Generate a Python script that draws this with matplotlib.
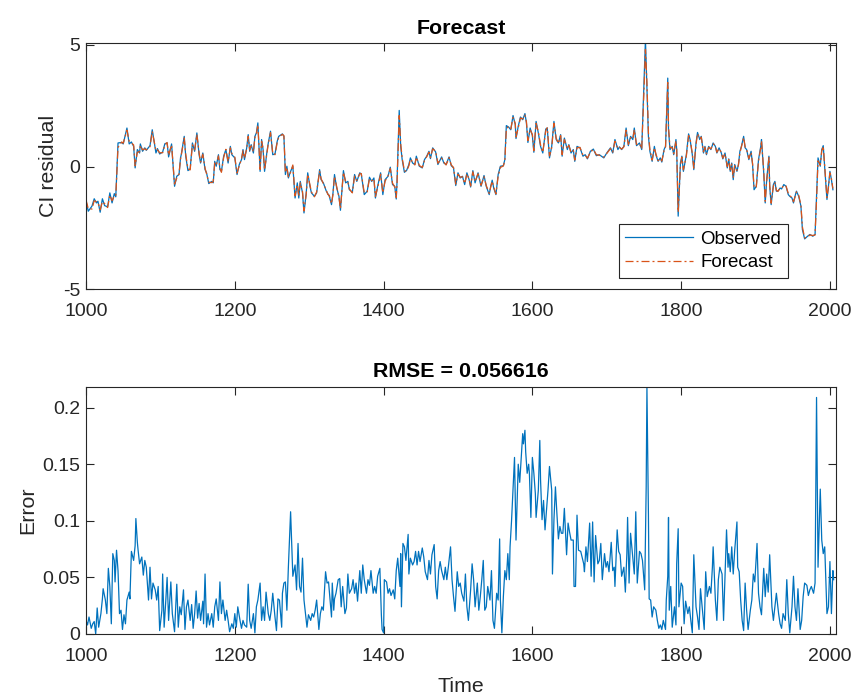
import matplotlib
matplotlib.use('Agg')
import matplotlib.pyplot as plt
from matplotlib.ticker import FixedLocator, FixedFormatter

plt.rcParams['font.family'] = ['Liberation Sans', 'DejaVu Sans']

# colours used by MATLAB defaults
blue = '#0072BD'
orange = '#D95319'
axcol = '#262626'

# ---- upper panel: observed / forecast CI residual ----
t_obs = [1000, 1003, 1008, 1011, 1014, 1016, 1019, 1022, 1025, 1029, 1032, 1035, 1038, 1040,
         1043, 1048, 1050, 1055, 1058, 1061, 1064, 1066, 1069, 1072, 1073, 1076, 1079, 1081,
         1086, 1089, 1094, 1096, 1099, 1103, 1106, 1109, 1111, 1115, 1119, 1122, 1125, 1127,
         1128, 1132, 1134, 1137, 1140, 1143, 1146, 1149, 1152, 1154, 1157, 1160, 1162, 1165,
         1169, 1171, 1173, 1175, 1178, 1180, 1182, 1185, 1188, 1191, 1194, 1196, 1200, 1203,
         1206, 1209, 1211, 1213, 1216, 1218, 1220, 1222, 1225, 1227, 1229, 1231, 1234, 1236,
         1238, 1240, 1243, 1245, 1248, 1251, 1254, 1257, 1259, 1264, 1266, 1268, 1270, 1272,
         1275, 1278, 1281, 1284, 1286, 1288, 1291, 1293, 1296, 1298, 1301, 1303, 1307, 1310,
         1314, 1316, 1319, 1323, 1325,
         1327, 1330, 1332, 1334, 1337, 1340, 1342, 1346, 1349, 1352, 1354, 1358, 1361, 1364,
         1368, 1370, 1374, 1378, 1381, 1384, 1387, 1389, 1392, 1396, 1399, 1402, 1406, 1409,
         1412, 1415, 1417, 1418, 1421, 1423, 1425, 1428, 1431, 1434, 1436, 1439, 1442, 1444,
         1448, 1452, 1455, 1458, 1461, 1463, 1466, 1470, 1473, 1478, 1481, 1484, 1488, 1491,
         1494, 1497, 1500, 1503, 1506, 1509, 1512, 1515, 1517, 1520, 1523, 1527, 1529, 1531,
         1535, 1538, 1542, 1544, 1546, 1548, 1551, 1554, 1557, 1561, 1563, 1565, 1568, 1571,
         1574, 1577, 1578, 1581, 1584, 1587, 1590, 1592, 1594, 1597, 1600, 1602, 1605, 1608,
         1611, 1614, 1618, 1620, 1623, 1626, 1629, 1632, 1635, 1638, 1640, 1643, 1647, 1649,
         1652, 1655, 1657, 1660,
         1664, 1668, 1671, 1674, 1678, 1682, 1686, 1690, 1696, 1700, 1705, 1708, 1711, 1715,
         1717, 1720, 1723, 1726, 1729, 1732, 1735, 1737, 1740, 1744, 1747, 1750, 1752, 1754,
         1756, 1758, 1761, 1764, 1766, 1769, 1772, 1774, 1777, 1779, 1782, 1783, 1785, 1788,
         1790, 1793, 1794, 1796, 1799, 1801, 1803, 1807, 1810, 1812, 1815, 1817, 1820, 1822,
         1825, 1827, 1830, 1832, 1834, 1837, 1840, 1843, 1846, 1848, 1851, 1854, 1856, 1859,
         1862, 1864, 1866, 1868, 1870, 1872, 1875, 1877, 1879, 1881, 1884, 1886, 1888, 1891,
         1894, 1896, 1898, 1901, 1904, 1907, 1908, 1911, 1913, 1915, 1918, 1919, 1921, 1924,
         1926, 1928, 1930, 1933, 1935, 1938, 1941, 1944, 1946, 1949, 1951, 1953, 1955, 1958,
         1961, 1963, 1966, 1970, 1973, 1977, 1980, 1982, 1984, 1987, 1989, 1991, 1993, 1996,
         1998, 2000, 2002, 2004]

observed = [-1.40, -1.81, -1.60, -1.30, -1.47, -1.40, -1.85, -1.30, -1.58, -1.63, -1.06, -1.47, -1.09, -1.22,
            0.98, 1.00, 0.94, 1.59, 0.94, 1.02, 0.84, -0.04, 0.71, 0.57, 0.94, 0.64, 0.78, 0.68,
            0.87, 1.52, 0.57, 0.75, 0.53, 0.61, 0.95, 0.98, 0.41, 0.94, -0.79, -0.38, -0.31, 0.37,
            0.50, 1.25, 0.44, -0.15, -0.08, 0.98, 0.64, 1.39, 0.50, 0.16, 0.57, -0.11, -0.24, -0.68,
            -0.59, -0.65, 0.23, 0.03, 0.50, -0.11, -0.18, 0.44, 0.71, 0.16, 0.84, 0.50, 0.37, -0.31,
            0.10, 0.30, 0.71, 0.30, 0.78, 1.32, 0.64, 0.91, 0.57, 1.25, 1.39, 1.80, -0.18, 1.12,
            0.71, -0.18, 0.57, 0.98, 1.46, 0.50, 0.53, 1.05, 1.25, 1.35, 1.25, -0.31, 0.03, -0.45,
            -0.18, 0.03, -1.27, -0.65, -1.27, -0.59, -1.06, -1.88, -1.06, -0.24, -0.79, -1.06, -1.20, -1.06,
            -0.11, -0.52, -0.65, -0.99, -1.09,
            -1.20, -1.54, -1.06, -0.31, -0.86, -1.20, -1.77, -0.15, -0.65, -0.59, -0.93, -1.03, -0.31, -0.59,
            -0.24, -0.29, -1.13, -0.99, -0.42, -0.59, -0.45, -1.27, -0.79, -0.24, -1.13, -0.52, -0.38, -0.01,
            -0.72, -0.79, -1.31, -0.65, 2.31, 0.84, 0.30, -0.22, -0.14, 0.10, 0.37, 0.16, 0.10, 0.44,
            0.03, -0.04, 0.30, 0.44, 0.64, 0.34, 0.78, 0.61, 0.10, 0.41, 0.16, 0.10, 0.41, 0.05,
            -0.04, -0.76, -0.24, -0.45, -0.38, -0.72, -0.24, -0.52, -0.82, -0.15, -0.65, -0.24, -0.52, -0.79,
            -0.35, -0.79, -1.13, -0.79, -0.54, -0.86, -1.13, -0.31, 0.03, 0.05, 0.30, 1.69, 1.63, 1.52,
            2.10, 1.73, 1.16, 1.66, 2.04, 1.93, 2.18, 1.80, 1.00, 1.59, 1.28, 0.60, 1.86, 1.39,
            0.84, 0.57, 1.55, 1.59, 0.37, 0.84, 1.86, 1.12, 0.98, 1.32, 0.44, 1.18, 0.71, 0.91,
            0.57, 0.71, 0.23, 0.84,
            0.78, 0.44, 0.50, 0.33, 0.64, 0.73, 0.46, 0.50, 0.37, 0.57, 0.78, 0.57, 1.12, 0.71,
            0.82, 0.71, 0.84, 1.59, 0.87, 1.25, 1.12, 1.59, 0.87, 0.98, 0.71, 3.43, 5.20, 3.29,
            1.25, 0.64, 0.23, 0.84, 0.50, 0.23, 0.37, 0.20, 0.71, 0.84, 3.63, 1.52, 0.71, 0.84,
            0.50, 1.12, 0.71, -2.01, 0.16, 0.44, -0.18, 0.50, 1.35, 1.12, 0.50, -0.11, 0.98, 1.41,
            1.12, 1.25, 0.57, 0.84, 0.50, 0.84, 0.71, 0.98, 0.84, 0.57, 0.78, 0.57, 0.33, 0.57,
            -0.04, 0.33, -0.18, 0.16, -0.52, 0.10, -0.18, 0.10, 0.64, 0.84, 1.25, 0.78, 0.71, 0.30,
            0.64, 0.10, -0.93, -0.79, 0.30, 0.84, 1.12, -0.24, -1.47, -0.52, 0.44, -0.79, -1.54, -0.72,
            -0.59, -0.99, -0.99, -0.86, -0.90, -0.72, -0.79, -1.13, -1.20, -1.27, -1.47, -1.20, -0.99, -1.20,
            -1.60, -2.56, -2.94, -2.83, -2.76, -2.83, -2.76, -1.20, 0.37, 0.03, 0.71, 0.87, -0.04, -1.33,
            -0.79, -0.18, -0.52, -0.93]

forecast = [-1.35, -1.70, -1.72, -1.38, -1.42, -1.45, -1.75, -1.42, -1.50, -1.66, -1.15, -1.38, -1.18, -1.18,
            0.80, 1.02, 0.97, 1.50, 1.05, 0.98, 0.90, 0.05, 0.60, 0.62, 0.88, 0.70, 0.74, 0.70,
            0.83, 1.45, 0.66, 0.70, 0.58, 0.58, 0.90, 1.00, 0.48, 0.90, -0.70, -0.45, -0.28, 0.30,
            0.48, 1.18, 0.52, -0.08, -0.12, 0.90, 0.70, 1.32, 0.58, 0.20, 0.52, -0.05, -0.28, -0.62,
            -0.64, -0.60, 0.16, 0.08, 0.45, -0.05, -0.22, 0.38, 0.72, 0.22, 0.78, 0.55, 0.40, -0.25,
            0.05, 0.32, 0.66, 0.36, 0.74, 1.25, 0.70, 0.86, 0.62, 1.20, 1.35, 1.72, -0.10, 1.05,
            0.76, -0.12, 0.52, 0.95, 1.40, 0.56, 0.50, 1.00, 1.22, 1.33, 1.28, -0.22, -0.02, -0.40,
            -0.22, 0.08, -1.18, -0.72, -1.20, -0.65, -1.00, -1.80, -1.12, -0.30, -0.74, -1.02, -1.22, -1.02,
            -0.18, -0.48, -0.68, -0.95, -1.12,
            -1.16, -1.50, -1.12, -0.38, -0.80, -1.24, -1.70, -0.22, -0.60, -0.62, -0.90, -1.06, -0.38, -0.55,
            -0.28, -0.27, -1.05, -1.02, -0.48, -0.56, -0.48, -1.20, -0.84, -0.30, -1.06, -0.58, -0.36, -0.06,
            -0.66, -0.82, -1.25, -0.72, 2.10, 0.95, 0.36, -0.16, -0.17, 0.05, 0.32, 0.20, 0.08, 0.40,
            0.06, -0.02, 0.26, 0.42, 0.60, 0.38, 0.74, 0.64, 0.15, 0.36, 0.20, 0.08, 0.38, 0.08,
            -0.02, -0.70, -0.30, -0.42, -0.40, -0.68, -0.28, -0.50, -0.78, -0.20, -0.60, -0.28, -0.50, -0.75,
            -0.40, -0.76, -1.08, -0.82, -0.58, -0.82, -1.10, -0.38, -0.02, 0.04, 0.25, 1.55, 1.66, 1.55,
            2.02, 1.78, 1.22, 1.60, 2.00, 1.96, 2.12, 1.85, 1.08, 1.52, 1.33, 0.66, 1.78, 1.44,
            0.90, 0.60, 1.48, 1.60, 0.45, 0.78, 1.78, 1.18, 0.96, 1.28, 0.50, 1.12, 0.75, 0.88,
            0.60, 0.68, 0.28, 0.78,
            0.80, 0.48, 0.48, 0.36, 0.60, 0.72, 0.50, 0.48, 0.40, 0.55, 0.75, 0.60, 1.05, 0.75,
            0.80, 0.73, 0.82, 1.50, 0.92, 1.20, 1.15, 1.52, 0.92, 0.95, 0.74, 3.10, 4.80, 3.45,
            1.40, 0.70, 0.28, 0.78, 0.54, 0.26, 0.35, 0.24, 0.66, 0.82, 3.45, 1.65, 0.78, 0.80,
            0.54, 1.06, 0.75, -1.85, 0.05, 0.40, -0.12, 0.45, 1.28, 1.15, 0.55, -0.05, 0.92, 1.36,
            1.15, 1.22, 0.62, 0.80, 0.54, 0.80, 0.74, 0.95, 0.86, 0.60, 0.75, 0.60, 0.36, 0.54,
            0.02, 0.30, -0.12, 0.12, -0.45, 0.05, -0.14, 0.08, 0.58, 0.82, 1.20, 0.82, 0.72, 0.34,
            0.60, 0.14, -0.85, -0.82, 0.24, 0.78, 1.08, -0.15, -1.40, -0.58, 0.38, -0.72, -1.48, -0.78,
            -0.62, -0.95, -1.00, -0.88, -0.88, -0.75, -0.78, -1.08, -1.18, -1.25, -1.42, -1.24, -1.02, -1.16,
            -1.55, -2.45, -2.90, -2.86, -2.78, -2.80, -2.78, -1.35, 0.25, 0.08, 0.65, 0.85, 0.02, -1.25,
            -0.84, -0.24, -0.48, -0.88]

# ---- lower panel: absolute forecast error ----
t_err = [1000, 1002, 1004, 1007, 1009, 1011, 1013, 1015, 1017, 1020, 1022, 1023, 1026, 1028,
         1030, 1032, 1034, 1036, 1038, 1039, 1041, 1043, 1045, 1047, 1049, 1051, 1053, 1055,
         1058, 1059, 1061, 1064, 1066, 1067, 1069, 1070, 1072, 1075, 1077, 1079, 1081, 1084,
         1086, 1088, 1090, 1093, 1095, 1097, 1099, 1102, 1103, 1105, 1107, 1109, 1111, 1114,
         1116, 1119, 1122, 1124, 1126, 1128, 1131, 1133, 1135, 1137, 1140, 1142, 1144, 1146,
         1148, 1150, 1152, 1154, 1157, 1158, 1160, 1162, 1164, 1166, 1169, 1171, 1173, 1175,
         1178, 1180, 1182, 1184, 1187, 1189, 1191, 1193, 1196, 1198, 1200, 1202, 1204, 1207,
         1209, 1211, 1213, 1216, 1218, 1220, 1222, 1225, 1227, 1229, 1231, 1234, 1236, 1238,
         1240, 1242, 1245, 1247, 1249, 1251, 1254, 1256, 1258, 1260, 1263, 1264, 1266, 1268,
         1270, 1272, 1275, 1277, 1278, 1281, 1283, 1285, 1287, 1289, 1291, 1293, 1295, 1297,
         1299, 1302, 1304, 1306, 1308, 1310, 1313, 1315, 1317, 1319, 1322, 1324, 1326,
         1330, 1331, 1333, 1334, 1336, 1339, 1341, 1343, 1345, 1348, 1350, 1352, 1354, 1357,
         1359, 1361, 1363, 1365, 1368, 1370, 1372, 1374, 1377, 1379, 1381, 1383, 1386, 1388,
         1390, 1392, 1395, 1397, 1398, 1400, 1401, 1404, 1406, 1408, 1410, 1413, 1415, 1417,
         1419, 1422, 1423, 1424, 1426, 1428, 1430, 1433, 1434, 1436, 1439, 1441, 1443, 1445,
         1447, 1449, 1452, 1454, 1456, 1459, 1461, 1463, 1465, 1468, 1470, 1472, 1474, 1476,
         1478, 1481, 1483, 1485, 1487, 1490, 1492, 1494, 1496, 1499, 1501, 1503, 1505, 1508,
         1510, 1512, 1514, 1517, 1519, 1521, 1523, 1526, 1528, 1530, 1532, 1534, 1536, 1538,
         1540, 1543, 1545, 1547, 1549, 1552, 1554, 1555, 1556, 1557, 1559, 1561, 1563, 1565,
         1567, 1569, 1570, 1572, 1574, 1576, 1578, 1581, 1583, 1585, 1587, 1588, 1590, 1591,
         1593, 1595, 1596, 1598, 1600, 1602, 1604, 1605, 1608, 1610, 1611, 1613, 1615, 1617,
         1619, 1621, 1623, 1626, 1627, 1629, 1631, 1633, 1635, 1637, 1639, 1641, 1643, 1646,
         1648, 1650, 1652, 1655, 1656, 1658, 1660, 1662, 1665,
         1669, 1670, 1672, 1674, 1677, 1679, 1681, 1683, 1685, 1688, 1690, 1692, 1694, 1697,
         1699, 1701, 1703, 1706, 1708, 1710, 1711, 1714, 1716, 1718, 1720, 1723, 1725, 1727,
         1728, 1730, 1732, 1735, 1737, 1739, 1741, 1744, 1746, 1748, 1751, 1753, 1754, 1756,
         1757, 1759, 1761, 1763, 1766, 1768, 1770, 1772, 1774, 1776, 1779, 1780, 1782, 1783,
         1784, 1786, 1788, 1791, 1793, 1794, 1796, 1797, 1800, 1802, 1804, 1806, 1809, 1811,
         1813, 1815, 1817, 1820, 1822, 1824, 1826, 1829, 1831, 1833, 1835, 1838, 1840, 1842,
         1843, 1846, 1848, 1850, 1852, 1855, 1857, 1859, 1861, 1863, 1864, 1866, 1868, 1870,
         1872, 1875, 1876, 1878, 1880, 1882, 1884, 1886, 1888, 1890, 1893, 1895, 1897, 1899,
         1902, 1904, 1906, 1908, 1911, 1913, 1915, 1917, 1919, 1922, 1924, 1926, 1928, 1931,
         1933, 1935, 1937, 1940, 1942, 1944, 1946, 1949, 1951, 1953, 1955, 1957, 1960, 1962,
         1964, 1966, 1969, 1971, 1973, 1975, 1978, 1980, 1982, 1984, 1986, 1987, 1989, 1991,
         1993, 1995, 1996, 1998, 2000, 2002, 2004, 2005]

error = [0.012, 0.008, 0.015, 0.005, 0.009, 0.011, 0.000, 0.023, 0.006, 0.018, 0.031, 0.040, 0.030, 0.018,
         0.058, 0.042, 0.009, 0.071, 0.065, 0.046, 0.074, 0.056, 0.018, 0.021, 0.004, 0.017, 0.009, 0.030,
         0.037, 0.031, 0.073, 0.065, 0.078, 0.102, 0.081, 0.074, 0.062, 0.068, 0.052, 0.065, 0.059, 0.030,
         0.059, 0.031, 0.045, 0.039, 0.030, 0.042, 0.003, 0.021, 0.053, 0.006, 0.027, 0.050, 0.012, 0.046,
         0.018, 0.002, 0.044, 0.006, 0.024, 0.017, 0.039, 0.004, 0.024, 0.030, 0.012, 0.026, 0.005, 0.018,
         0.038, 0.014, 0.027, 0.012, 0.029, 0.009, 0.053, 0.006, 0.018, 0.008, 0.018, 0.006, 0.024, 0.031,
         0.012, 0.046, 0.018, 0.030, 0.012, 0.021, 0.012, 0.002, 0.009, 0.005, 0.018, 0.006, 0.024, 0.012,
         0.005, 0.012, 0.008, 0.006, 0.044, 0.012, 0.005, 0.018, 0.001, 0.024, 0.030, 0.045, 0.012, 0.024,
         0.012, 0.037, 0.018, 0.012, 0.021, 0.036, 0.015, 0.003, 0.031, 0.030, 0.006, 0.036, 0.045, 0.046,
         0.021, 0.059, 0.108, 0.071, 0.051, 0.061, 0.039, 0.080, 0.042, 0.037, 0.067, 0.030, 0.018, 0.006,
         0.017, 0.012, 0.018, 0.015, 0.021, 0.030, 0.004, 0.018, 0.024, 0.021, 0.055, 0.045, 0.046,
         0.015, 0.045, 0.021, 0.031, 0.036, 0.048, 0.049, 0.024, 0.042, 0.018, 0.023, 0.053, 0.036, 0.040,
         0.048, 0.036, 0.045, 0.029, 0.056, 0.036, 0.061, 0.048, 0.036, 0.048, 0.043, 0.056, 0.036, 0.042,
         0.036, 0.051, 0.058, 0.017, 0.004, 0.001, 0.048, 0.046, 0.036, 0.040, 0.034, 0.039, 0.031, 0.056,
         0.067, 0.042, 0.071, 0.024, 0.080, 0.077, 0.065, 0.088, 0.053, 0.067, 0.061, 0.064, 0.073, 0.061,
         0.073, 0.064, 0.076, 0.068, 0.055, 0.048, 0.065, 0.053, 0.070, 0.079, 0.042, 0.031, 0.056, 0.064,
         0.056, 0.048, 0.059, 0.048, 0.059, 0.077, 0.048, 0.033, 0.020, 0.055, 0.042, 0.045, 0.036, 0.029,
         0.053, 0.024, 0.012, 0.039, 0.062, 0.048, 0.024, 0.045, 0.021, 0.033, 0.048, 0.065, 0.021, 0.024,
         0.042, 0.030, 0.056, 0.012, 0.005, 0.036, 0.030, 0.059, 0.084, 0.030, 0.001, 0.033, 0.056, 0.048,
         0.071, 0.048, 0.077, 0.100, 0.127, 0.156, 0.083, 0.150, 0.134, 0.156, 0.177, 0.168, 0.180, 0.161,
         0.142, 0.150, 0.142, 0.103, 0.156, 0.142, 0.124, 0.103, 0.127, 0.171, 0.136, 0.101, 0.118, 0.092,
         0.109, 0.127, 0.148, 0.127, 0.053, 0.101, 0.130, 0.106, 0.084, 0.095, 0.089, 0.089, 0.111, 0.070,
         0.098, 0.090, 0.083, 0.083, 0.042, 0.042, 0.105, 0.074, 0.073,
         0.062, 0.055, 0.077, 0.064, 0.098, 0.051, 0.099, 0.046, 0.087, 0.062, 0.065, 0.080, 0.048, 0.071,
         0.059, 0.064, 0.055, 0.081, 0.056, 0.059, 0.042, 0.092, 0.073, 0.070, 0.051, 0.059, 0.037, 0.071,
         0.103, 0.045, 0.089, 0.068, 0.053, 0.108, 0.045, 0.073, 0.071, 0.065, 0.039, 0.130, 0.218, 0.106,
         0.031, 0.030, 0.015, 0.024, 0.021, 0.012, 0.005, 0.008, 0.004, 0.012, 0.004, 0.030, 0.051, 0.103,
         0.021, 0.042, 0.006, 0.024, 0.008, 0.062, 0.093, 0.024, 0.045, 0.042, 0.009, 0.029, 0.018, 0.024,
         0.012, 0.001, 0.070, 0.024, 0.015, 0.004, 0.040, 0.018, 0.004, 0.055, 0.033, 0.042, 0.036, 0.059,
         0.077, 0.030, 0.012, 0.048, 0.059, 0.053, 0.012, 0.051, 0.092, 0.059, 0.071, 0.055, 0.077, 0.053,
         0.074, 0.099, 0.059, 0.055, 0.030, 0.012, 0.003, 0.045, 0.021, 0.004, 0.021, 0.030, 0.053, 0.046,
         0.080, 0.036, 0.024, 0.017, 0.058, 0.033, 0.053, 0.037, 0.070, 0.024, 0.012, 0.024, 0.036, 0.018,
         0.009, 0.005, 0.018, 0.012, 0.048, 0.018, 0.001, 0.024, 0.051, 0.024, 0.012, 0.040, 0.004, 0.012,
         0.033, 0.045, 0.043, 0.034, 0.039, 0.042, 0.036, 0.045, 0.209, 0.059, 0.106, 0.128, 0.083, 0.071,
         0.077, 0.036, 0.018, 0.024, 0.064, 0.018, 0.056, 0.048]

rmse_text = 'RMSE = 0.056616'


def matlab_style(ax):
    for s in ax.spines.values():
        s.set_color(axcol)
        s.set_linewidth(0.8)
    ax.tick_params(direction='in', top=True, right=True, length=5.5, width=0.8,
                   colors=axcol, labelcolor=axcol, labelsize=14)
    ax.tick_params(axis='x', pad=10)
    ax.tick_params(axis='y', pad=4)


fig = plt.figure(figsize=(8.56, 6.98), dpi=100)
ax1 = fig.add_axes([0.1005, 0.5855, 0.876, 0.3524])
ax2 = fig.add_axes([0.1005, 0.0917, 0.876, 0.3543])

ax1.plot(t_obs, observed, color=blue, lw=0.9, label='Observed')
ax1.plot(t_obs, forecast, color=orange, lw=0.9, ls=(0, (6.4, 2.4, 1.6, 2.4)), label='Forecast')
ax1.set_xlim(1000, 2008)
ax1.set_ylim(-5, 5.05)
ax1.xaxis.set_major_locator(FixedLocator([1000, 1200, 1400, 1600, 1800, 2000]))
ax1.yaxis.set_major_locator(FixedLocator([-5, 0, 5]))
ax1.yaxis.set_major_formatter(FixedFormatter(['-5', '0', '5']))
ax1.set_ylabel('CI residual', fontsize=15.4, color=axcol)
ax1.set_title('Forecast', fontsize=15.4, fontweight='bold', pad=7)
matlab_style(ax1)
leg = ax1.legend(loc='lower right', bbox_to_anchor=(0.936, 0.046), fontsize=13.5,
                 fancybox=False, edgecolor=axcol, framealpha=1, handlelength=3.6,
                 handletextpad=0.4, borderpad=0.35, labelspacing=0.35, borderaxespad=0)
leg.get_frame().set_linewidth(0.8)

ax2.plot(t_err, error, color=blue, lw=0.9)
ax2.set_xlim(1000, 2008)
ax2.set_ylim(0, 0.2185)
ax2.xaxis.set_major_locator(FixedLocator([1000, 1200, 1400, 1600, 1800, 2000]))
ax2.yaxis.set_major_locator(FixedLocator([0, 0.05, 0.1, 0.15, 0.2]))
ax2.yaxis.set_major_formatter(FixedFormatter(['0', '0.05', '0.1', '0.15', '0.2']))
ax2.set_xlabel('Time', fontsize=15.4, color=axcol, labelpad=9)
ax2.set_ylabel('Error', fontsize=15.4, color=axcol)
ax2.set_title(rmse_text, fontsize=15.4, fontweight='bold', pad=7)
matlab_style(ax2)

fig.savefig('out.png', dpi=100)
